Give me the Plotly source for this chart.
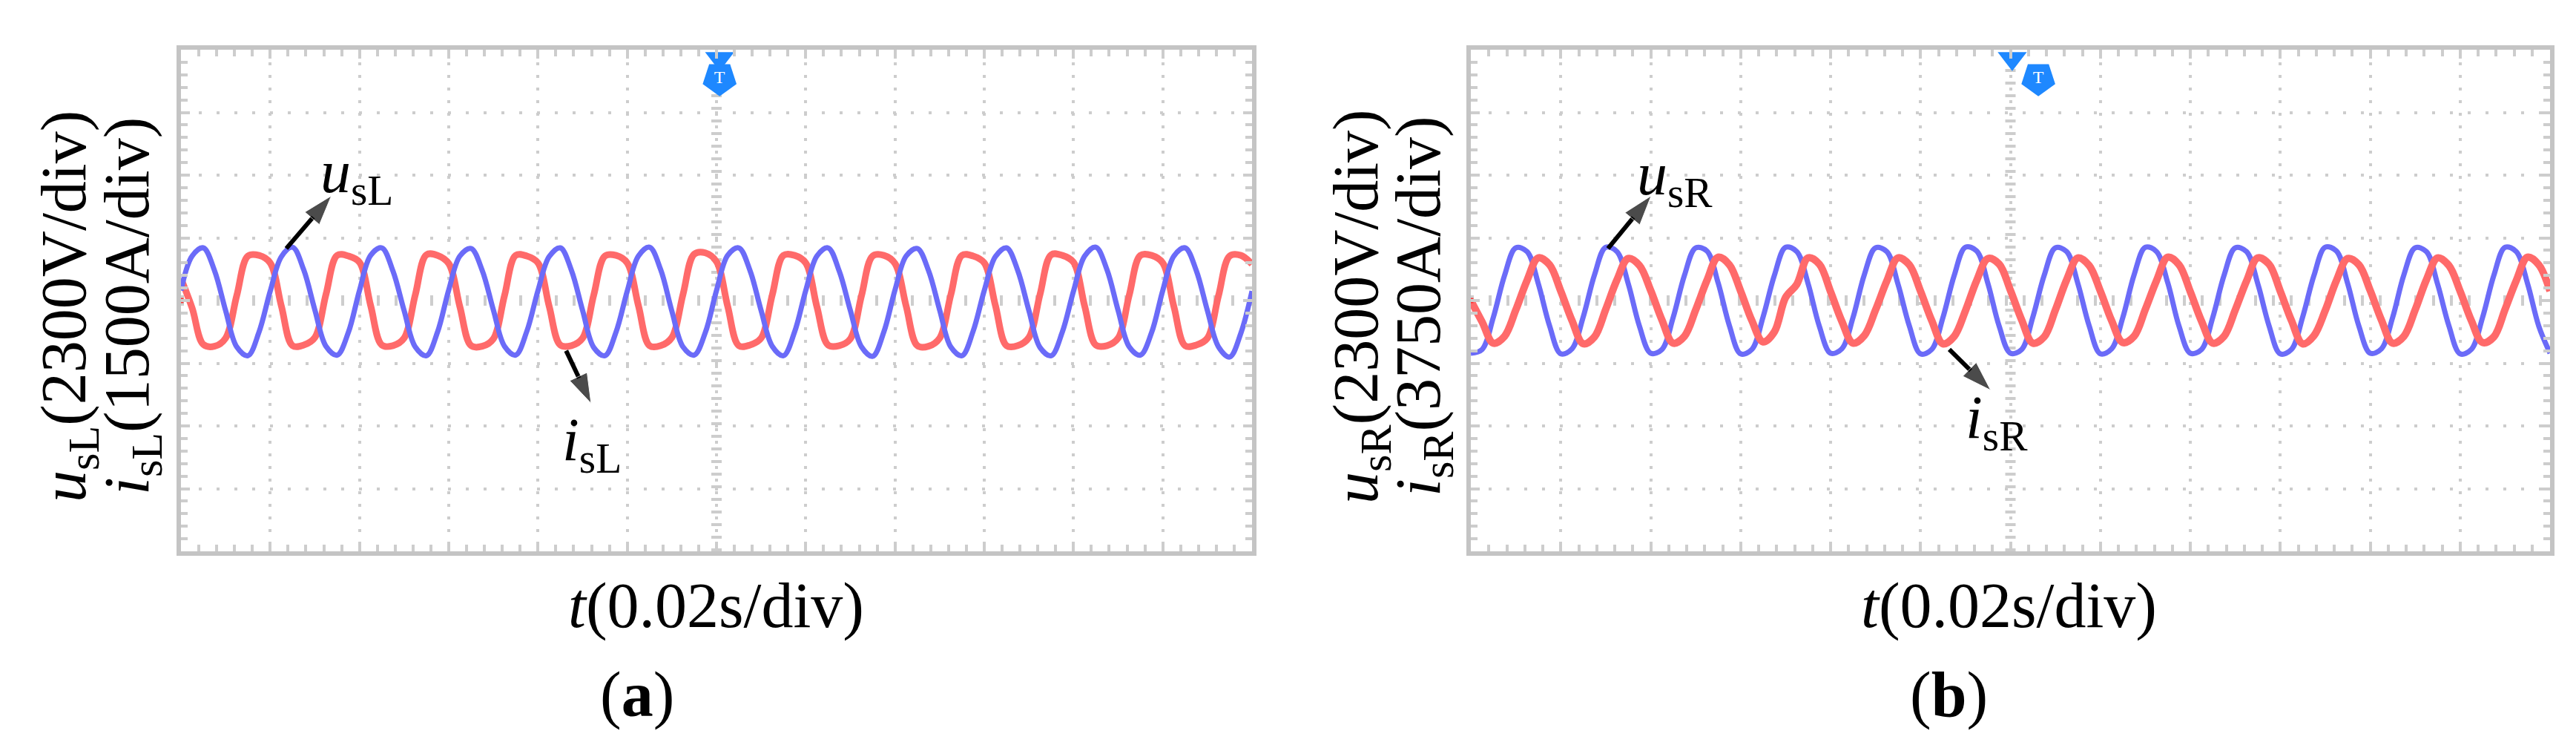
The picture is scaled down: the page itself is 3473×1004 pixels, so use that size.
import plotly.graph_objects as go

# time base: one reading every 1/8 division (0.0025 s), 12 divisions
t = [i * 0.0025 for i in range(97)]

# (a) readings in divisions from the centre line
u_sl = [0.16, 0.71, 0.84, 0.48, -0.16, -0.74, -0.88, -0.50,
        0.15, 0.70, 0.85, 0.49, -0.15, -0.73, -0.87, -0.51,
        0.16, 0.72, 0.84, 0.47, -0.16, -0.74, -0.88, -0.50,
        0.17, 0.71, 0.83, 0.48, -0.15, -0.73, -0.87, -0.49,
        0.16, 0.70, 0.84, 0.48, -0.16, -0.75, -0.88, -0.50,
        0.15, 0.71, 0.85, 0.49, -0.17, -0.74, -0.87, -0.51,
        0.16, 0.72, 0.84, 0.48, -0.16, -0.73, -0.88, -0.50,
        0.16, 0.71, 0.84, 0.47, -0.16, -0.74, -0.89, -0.50,
        0.17, 0.71, 0.83, 0.48, -0.15, -0.74, -0.88, -0.49,
        0.16, 0.70, 0.84, 0.48, -0.16, -0.75, -0.88, -0.50,
        0.15, 0.71, 0.85, 0.49, -0.16, -0.74, -0.87, -0.51,
        0.16, 0.71, 0.84, 0.48, -0.16, -0.74, -0.90, -0.52,
        0.15]
i_sl = [0.35, -0.12, -0.70, -0.73, -0.60, 0.08, 0.71, 0.72,
        0.60, -0.09, -0.72, -0.71, -0.59, 0.10, 0.72, 0.71,
        0.61, -0.08, -0.71, -0.72, -0.60, 0.09, 0.73, 0.72,
        0.59, -0.10, -0.72, -0.73, -0.61, 0.08, 0.72, 0.71,
        0.60, -0.09, -0.71, -0.72, -0.60, 0.09, 0.71, 0.72,
        0.60, -0.08, -0.72, -0.72, -0.59, 0.10, 0.74, 0.76,
        0.62, -0.09, -0.72, -0.71, -0.60, 0.09, 0.72, 0.72,
        0.60, -0.10, -0.71, -0.72, -0.61, 0.08, 0.71, 0.72,
        0.59, -0.09, -0.72, -0.73, -0.60, 0.09, 0.72, 0.71,
        0.60, -0.08, -0.72, -0.72, -0.59, 0.10, 0.73, 0.72,
        0.61, -0.09, -0.71, -0.72, -0.60, 0.09, 0.72, 0.72,
        0.60, -0.10, -0.72, -0.71, -0.60, 0.08, 0.71, 0.72,
        0.58]

# (b) readings in divisions from the centre line
u_sr = [-0.84, -0.78, -0.27, 0.40, 0.84, 0.78, 0.27, -0.40,
        -0.85, -0.77, -0.26, 0.41, 0.85, 0.78, 0.27, -0.41,
        -0.84, -0.78, -0.27, 0.40, 0.84, 0.79, 0.28, -0.40,
        -0.85, -0.78, -0.26, 0.40, 0.85, 0.78, 0.27, -0.41,
        -0.84, -0.77, -0.27, 0.41, 0.84, 0.78, 0.26, -0.40,
        -0.85, -0.78, -0.27, 0.40, 0.85, 0.79, 0.27, -0.41,
        -0.84, -0.78, -0.26, 0.40, 0.84, 0.78, 0.27, -0.40,
        -0.85, -0.77, -0.27, 0.41, 0.85, 0.78, 0.28, -0.41,
        -0.84, -0.78, -0.27, 0.40, 0.84, 0.78, 0.27, -0.40,
        -0.85, -0.78, -0.26, 0.40, 0.85, 0.79, 0.27, -0.41,
        -0.84, -0.77, -0.27, 0.41, 0.84, 0.78, 0.26, -0.40,
        -0.85, -0.78, -0.27, 0.40, 0.85, 0.78, 0.27, -0.41,
        -0.84]
i_sr = [0.00, -0.34, -0.68, -0.57, -0.15, 0.32, 0.68, 0.57,
        0.15, -0.32, -0.69, -0.58, -0.14, 0.33, 0.67, 0.56,
        0.16, -0.31, -0.68, -0.57, -0.15, 0.32, 0.69, 0.57,
        0.15, -0.32, -0.66, -0.50, 0.05, 0.26, 0.68, 0.58,
        0.14, -0.33, -0.68, -0.56, -0.15, 0.31, 0.68, 0.57,
        0.15, -0.32, -0.69, -0.57, -0.16, 0.32, 0.67, 0.58,
        0.16, -0.31, -0.68, -0.58, -0.15, 0.33, 0.68, 0.56,
        0.15, -0.32, -0.67, -0.57, -0.14, 0.32, 0.69, 0.57,
        0.14, -0.33, -0.68, -0.57, -0.15, 0.31, 0.68, 0.58,
        0.15, -0.32, -0.69, -0.56, -0.16, 0.32, 0.67, 0.57,
        0.16, -0.31, -0.68, -0.57, -0.15, 0.33, 0.68, 0.56,
        0.15, -0.32, -0.67, -0.58, -0.14, 0.32, 0.69, 0.57,
        0.15]

BLUE = '#6B6BF8'
RED = '#FF6A6A'
GRID = '#CDCDCD'
SERIF = 'Liberation Serif'

fig = go.Figure()

fig.add_trace(go.Scatter(x=t, y=i_sl, mode='lines', line=dict(color=RED, width=9, shape='spline'),
                         xaxis='x', yaxis='y'))
fig.add_trace(go.Scatter(x=t, y=u_sl, mode='lines', line=dict(color=BLUE, width=7, shape='spline'),
                         xaxis='x', yaxis='y'))
fig.add_trace(go.Scatter(x=t, y=u_sr, mode='lines', line=dict(color=BLUE, width=7, shape='spline'),
                         xaxis='x2', yaxis='y2'))
fig.add_trace(go.Scatter(x=t, y=i_sr, mode='lines', line=dict(color=RED, width=10, shape='spline'),
                         xaxis='x2', yaxis='y2'))

# trigger icons at the top of each screen and the channel marker on the left
for xa, ya, tx, px in (('x', 'y', 0.1207, 0.1207), ('x2', 'y2', 0.1204, 0.1262)):
    fig.add_trace(go.Scatter(x=[tx], y=[3.86], mode='markers', cliponaxis=False,
                             marker=dict(symbol='triangle-down', size=34, color='#1E88FF'),
                             xaxis=xa, yaxis=ya))
    fig.add_trace(go.Scatter(x=[px], y=[3.54], mode='markers+text', text=['T'], cliponaxis=False,
                             marker=dict(symbol='pentagon', angle=180, size=48, color='#1E88FF'),
                             textfont=dict(color='white', size=24, family='Arial Black'),
                             textposition='middle center', xaxis=xa, yaxis=ya))
    fig.add_trace(go.Scatter(x=[0], y=[0], mode='markers', cliponaxis=False,
                             marker=dict(symbol='square', size=7, color='#FF3030'),
                             xaxis=xa, yaxis=ya))

# arrows from the traces to their labels (tail, head) in data units
arrows = [('x', 'y', (0.0236, 0.83), (0.0337, 1.67)),
          ('x', 'y', (0.0863, -0.80), (0.0919, -1.64)),
          ('x2', 'y2', (0.0305, 0.83), (0.0401, 1.67)),
          ('x2', 'y2', (0.1064, -0.78), (0.1156, -1.43))]
for xa, ya, tail, head in arrows:
    fig.add_trace(go.Scatter(x=[tail[0], head[0]], y=[tail[1], head[1]], mode='lines+markers',
                             line=dict(color='black', width=6), cliponaxis=False,
                             marker=dict(symbol='arrow', size=[0, 42], angleref='previous',
                                         color='black'),
                             xaxis=xa, yaxis=ya))

axis_common = dict(showline=True, linecolor='#C4C4C4', linewidth=6, mirror='allticks',
                   ticks='inside', ticklen=12, tickwidth=4, tickcolor=GRID,
                   showticklabels=False, zeroline=False, showgrid=True,
                   gridcolor=GRID, gridwidth=4)

W, H = 3473, 1004
dom_y = [1 - 735 / H, 1 - 59 / H]
fig.update_layout(
    width=W, height=H, margin=dict(l=0, r=0, t=0, b=0),
    paper_bgcolor='white', plot_bgcolor='white', showlegend=False,
    xaxis=dict(domain=[236 / W, 1680 / W], range=[0, 0.24], dtick=0.02, griddash='4px,13px',
               minor=dict(dtick=0.004, ticks='inside', ticklen=9, tickwidth=4, tickcolor=GRID),
               **axis_common),
    yaxis=dict(domain=dom_y, range=[-4, 4], dtick=1, griddash='4px,20px',
               minor=dict(dtick=0.2, ticks='inside', ticklen=9, tickwidth=4, tickcolor=GRID),
               **axis_common),
    xaxis2=dict(domain=[1975 / W, 3430 / W], range=[0, 0.24], dtick=0.02, griddash='4px,13px',
                anchor='y2',
                minor=dict(dtick=0.004, ticks='inside', ticklen=9, tickwidth=4, tickcolor=GRID),
                **axis_common),
    yaxis2=dict(domain=dom_y, range=[-4, 4], dtick=1, griddash='4px,20px', anchor='x2',
                minor=dict(dtick=0.2, ticks='inside', ticklen=9, tickwidth=4, tickcolor=GRID),
                **axis_common),
)

# heavier centre cross-hair of the scope screen
for xa, ya in (('x', 'y'), ('x2', 'y2')):
    fig.add_shape(type='line', xref=xa, yref=ya, x0=0.12, x1=0.12, y0=-4, y1=4, layer='below',
                  line=dict(color=GRID, width=14, dash='4px,13px'))
    fig.add_shape(type='line', xref=xa, yref=ya, x0=0, x1=0.24, y0=0, y1=0, layer='below',
                  line=dict(color=GRID, width=14, dash='4px,20px'))

label_font = dict(family=SERIF, size=86, color='black')
text_font = dict(family=SERIF, size=82, color='black')

annotations = []
# axis titles
for x_px, txt in ((84, '<i>u</i><sub>sL</sub>(2300V/div)'), (169, '<i>i</i><sub>sL</sub>(1500A/div)'),
                  (1826, '<i>u</i><sub>sR</sub>(2300V/div)'), (1910, '<i>i</i><sub>sR</sub>(3750A/div)')):
    annotations.append(dict(x=x_px / W, y=1 - 405 / H, xref='paper', yref='paper', text=txt,
                            textangle=-90, showarrow=False, font=label_font,
                            xanchor='center', yanchor='middle'))
for x_px, txt in ((957, '<i>t</i>(0.02s/div)'), (2700, '<i>t</i>(0.02s/div)')):
    annotations.append(dict(x=x_px / W, y=1 - 808 / H, xref='paper', yref='paper', text=txt,
                            showarrow=False, font=label_font, xanchor='center', yanchor='middle'))
for x_px, txt in ((851, '(<b>a</b>)'), (2619, '(<b>b</b>)')):
    annotations.append(dict(x=x_px / W, y=1 - 928 / H, xref='paper', yref='paper', text=txt,
                            showarrow=False, font=label_font, xanchor='center', yanchor='middle'))

# trace labels
for xa, ya, pos, txt in (('x', 'y', (0.0394, 1.99), '<i>u</i><sub>sL</sub>'),
                         ('x', 'y', (0.0921, -2.28), '<i>i</i><sub>sL</sub>'),
                         ('x2', 'y2', (0.0454, 1.95), '<i>u</i><sub>sR</sub>'),
                         ('x2', 'y2', (0.1170, -1.93), '<i>i</i><sub>sR</sub>')):
    annotations.append(dict(x=pos[0], y=pos[1], xref=xa, yref=ya, text=txt,
                            showarrow=False, font=text_font, xanchor='center', yanchor='middle'))

fig.update_layout(annotations=annotations)

fig.write_html("out.html")
